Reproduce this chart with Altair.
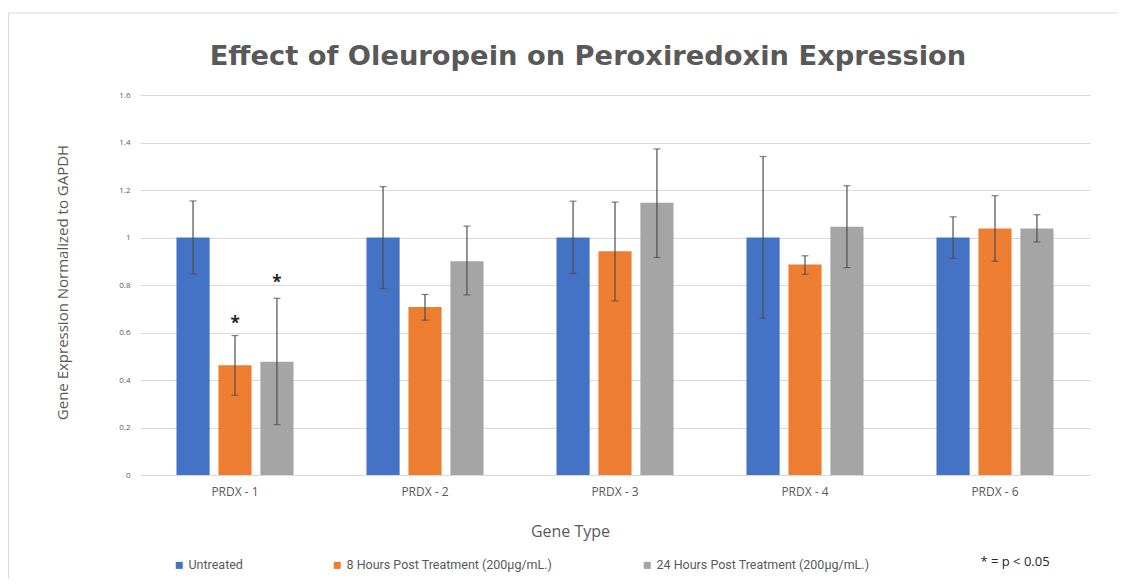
import altair as alt
import pandas as pd

genes = ["PRDX - 1", "PRDX - 2", "PRDX - 3", "PRDX - 4", "PRDX - 6"]
treatments = ["Untreated", "8 Hours Post Treatment (200µg/mL.)", "24 Hours Post Treatment (200µg/mL.)"]
colors = ["#4472C4", "#ED7D31", "#A5A5A5"]

untreated = [1.0, 1.0, 1.0, 1.0, 1.0]
untreated_lo = [0.846, 0.785, 0.849, 0.660, 0.912]
untreated_hi = [1.154, 1.214, 1.153, 1.341, 1.087]

h8 = [0.462, 0.707, 0.942, 0.886, 1.038]
h8_lo = [0.336, 0.652, 0.733, 0.845, 0.900]
h8_hi = [0.587, 0.760, 1.149, 0.923, 1.176]

h24 = [0.477, 0.900, 1.146, 1.045, 1.038]
h24_lo = [0.212, 0.758, 0.916, 0.873, 0.981]
h24_hi = [0.744, 1.048, 1.373, 1.218, 1.096]

# significance markers (star heights)
star_8h = [0.655, None, None, None, None]
star_24h = [0.830, None, None, None, None]
star_un = [None, None, None, None, None]

y_ticks = [0, 0.2, 0.4, 0.6, 0.8, 1.0, 1.2, 1.4, 1.6]

title_text = "Effect of Oleuropein on Peroxiredoxin Expression"
note_text = "* = p < 0.05"

rows = []
for vals, los, his, stars, t in [
    (untreated, untreated_lo, untreated_hi, star_un, treatments[0]),
    (h8, h8_lo, h8_hi, star_8h, treatments[1]),
    (h24, h24_lo, h24_hi, star_24h, treatments[2]),
]:
    for g, v, lo, hi, s in zip(genes, vals, los, his, stars):
        rows.append({"gene": g, "treatment": t, "value": v, "lo": lo, "hi": hi, "star": s})
df = pd.DataFrame(rows)

FONT = "Open Sans"
GREY = "#595959"

x_enc = alt.X(
    "gene:N",
    sort=genes,
    scale=alt.Scale(paddingInner=0.384, paddingOuter=0.192),
    axis=alt.Axis(
        title="Gene Type",
        labelAngle=0,
        labelFont=FONT,
        labelFontSize=12,
        labelColor=GREY,
        labelPadding=11,
        ticks=False,
        domain=False,
        titleFont=FONT,
        titleFontSize=16,
        titleFontWeight="normal",
        titleColor=GREY,
        titleX=430,
        titleY=56,
        titleAlign="center",
        titleBaseline="middle",
    ),
)
xo_enc = alt.XOffset(
    "treatment:N",
    sort=treatments,
    scale=alt.Scale(domain=treatments, paddingInner=0.21, paddingOuter=0),
)

base = alt.Chart(df)

bars = base.mark_bar().encode(
    x=x_enc,
    xOffset=xo_enc,
    y=alt.Y(
        "value:Q",
        scale=alt.Scale(domain=[0, 1.6], nice=False),
        axis=alt.Axis(
            title="Gene Expression Normalized to GAPDH",
            values=y_ticks,
            format=".1~f",
            labelFont=FONT,
            labelFontSize=8,
            labelColor=GREY,
            labelPadding=10,
            ticks=False,
            domain=False,
            grid=True,
            gridColor="#d9d9d9",
            gridWidth=1,
            titleFont=FONT,
            titleFontSize=15,
            titleFontWeight="normal",
            titleColor=GREY,
            titleX=-78,
            titleY=187,
            titleAngle=-90,
            titleAlign="center",
            titleBaseline="middle",
        ),
    ),
    color=alt.Color(
        "treatment:N",
        sort=treatments,
        scale=alt.Scale(domain=treatments, range=colors),
        legend=alt.Legend(
            title=None,
            orient="none",
            direction="horizontal",
            legendX=33,
            legendY=464,
            symbolType="square",
            symbolSize=49,
            symbolStrokeWidth=0,
            labelFont="Roboto",
            labelFontSize=12.5,
            labelColor=GREY,
            labelOffset=3,
            labelLimit=0,
            columnPadding=88,
        ),
    ),
)

err = base.mark_rule(color="#4d4d4d", strokeWidth=1.2).encode(
    x=alt.X("gene:N", sort=genes),
    xOffset=alt.XOffset("treatment:N", sort=treatments),
    y="lo:Q",
    y2="hi:Q",
)
cap_lo = base.mark_tick(color="#4d4d4d", size=7, thickness=1.2).encode(
    x=alt.X("gene:N", sort=genes),
    xOffset=alt.XOffset("treatment:N", sort=treatments),
    y="lo:Q",
)
cap_hi = base.mark_tick(color="#4d4d4d", size=7, thickness=1.2).encode(
    x=alt.X("gene:N", sort=genes),
    xOffset=alt.XOffset("treatment:N", sort=treatments),
    y="hi:Q",
)
stars = base.transform_filter("datum.star != null").mark_text(
    text="*", font=FONT, fontSize=17, fontWeight="bold", color="#262626", baseline="middle", dy=5
).encode(
    x=alt.X("gene:N", sort=genes),
    xOffset=alt.XOffset("treatment:N", sort=treatments),
    y="star:Q",
)

one = alt.Data(values=[{"a": 1}])
note = alt.Chart(one).mark_text(
    text=note_text, font=FONT, fontSize=13, color="#262626", align="center", baseline="middle"
).encode(x=alt.value(875), y=alt.value(467))

title = alt.Chart(one).mark_text(
    text=title_text, font="DejaVu Sans", fontSize=27.3, fontWeight="bold", color=GREY, align="center", baseline="middle"
).encode(x=alt.value(448), y=alt.value(-38))

border_top = alt.Chart(one).mark_rule(color="#d9d9d9", strokeWidth=1).encode(
    x=alt.value(-132), x2=alt.value(986), y=alt.value(-82)
)
border_left = alt.Chart(one).mark_rule(color="#d9d9d9", strokeWidth=1).encode(
    x=alt.value(-131.5), y=alt.value(-82), y2=alt.value(500)
)

chart = (
    alt.layer(bars, err, cap_lo, cap_hi, stars, note, title, border_top, border_left)
    .properties(
        width=950,
        height=380,
        autosize=alt.AutoSizeParams(type="none"),
        padding={"left": 132, "top": 87, "right": 28, "bottom": 104},
        background="white",
    )
    .configure_view(stroke=None, strokeWidth=0)
)

chart.save("out.html", embed_options={"renderer": "svg", "actions": False})
